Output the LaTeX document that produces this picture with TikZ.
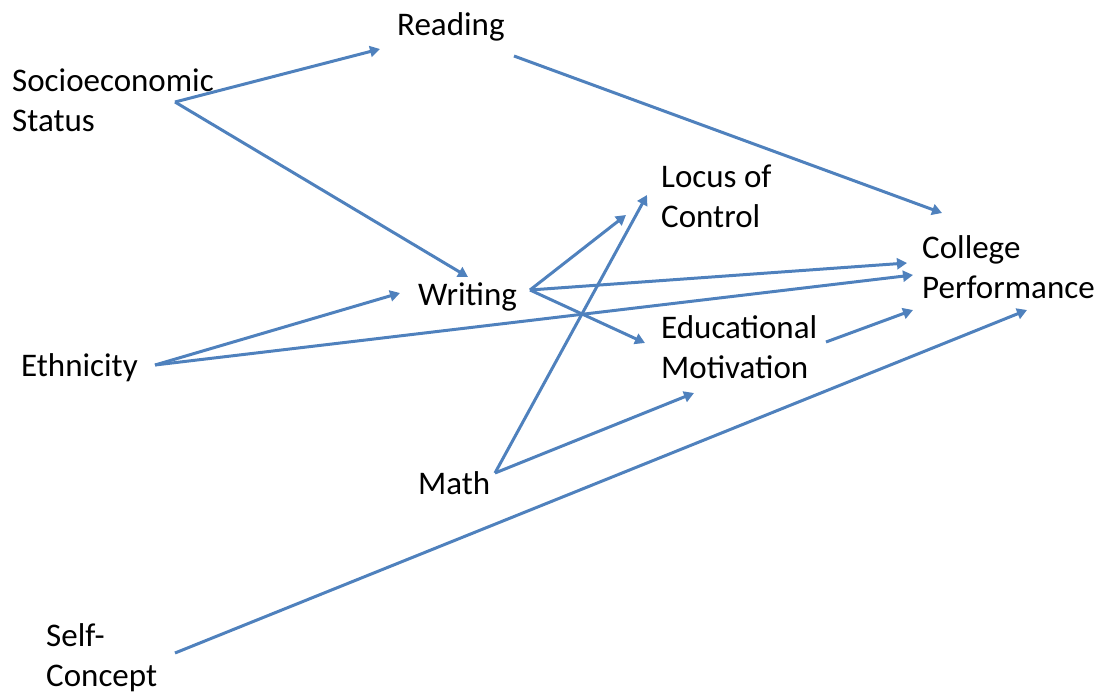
\documentclass[tikz,border=0pt]{standalone}
\usepackage{fontspec}
\setmainfont{Carlito}
\usetikzlibrary{arrows.meta}
\definecolor{pathblue}{RGB}{79,129,189}

\begin{document}
\begin{tikzpicture}[
  x = 1pt, y = -1pt,
  var/.style  = {anchor = west, align = left, inner sep = 0pt,
                 font = \fontsize{33}{40}\selectfont},
  path/.style = {draw = pathblue, line width = 3pt,
                 -{Triangle[length = 10pt, width = 11pt]}},
  ]
  \useasboundingbox (0,0) rectangle (1107,693);

  \node[var] (ses)     at (12,100)  {Socioeconomic\\Status};
  \node[var] (read)    at (397,27)  {Reading};
  \node[var] (locus)   at (661,196) {Locus of\\Control};
  \node[var] (college) at (922,267) {College\\Performance};
  \node[var] (writing) at (418,297) {Writing};
  \node[var] (edmot)   at (661,347) {Educational\\Motivation};
  \node[var] (eth)     at (21,368)  {Ethnicity};
  \node[var] (math)    at (418,483) {Math};
  \node[var] (self)    at (46,658)  {Self-\\Concept};

  \draw[path] ([shift={(163,2)}]ses.west)    -- ([shift={(-17,22)}]read.west);
  \draw[path] ([shift={(163,2)}]ses.west)    -- ([shift={(50,-20)}]writing.west);
  \draw[path] ([shift={(117,29)}]read.west)  -- ([shift={(20,-54)}]college.west);
  \draw[path] ([shift={(112,-7)}]writing.west) -- ([shift={(-35,19)}]locus.west);
  \draw[path] ([shift={(112,-7)}]writing.west) -- ([shift={(-15,-4)}]college.west);
  \draw[path] ([shift={(112,-7)}]writing.west) -- ([shift={(-16,-4)}]edmot.west);
  \draw[path] ([shift={(134,-3)}]eth.west)   -- ([shift={(-18,-4)}]writing.west);
  \draw[path] ([shift={(134,-3)}]eth.west)   -- ([shift={(-9,8)}]college.west);
  \draw[path] ([shift={(77,-10)}]math.west)  -- ([shift={(-14,-1)}]locus.west);
  \draw[path] ([shift={(77,-10)}]math.west)  -- ([shift={(33,46)}]edmot.west);
  \draw[path] ([shift={(129,-5)}]self.west)  -- ([shift={(105,43)}]college.west);
  \draw[path] ([shift={(165,-5)}]edmot.west) -- ([shift={(-9,43)}]college.west);
\end{tikzpicture}
\end{document}
